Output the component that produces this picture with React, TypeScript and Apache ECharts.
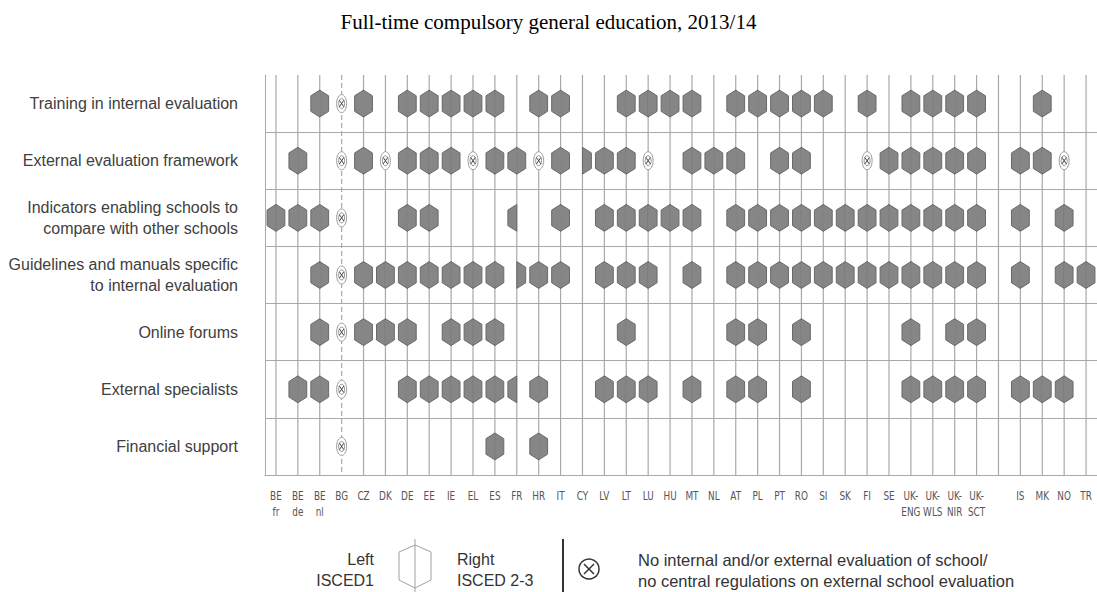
import React, { useEffect, useRef } from 'react';
import * as echarts from 'echarts';

// Countries / education systems (x axis); '' is the gap column
const countries = [
  'BE\nfr', 'BE\nde', 'BE\nnl', 'BG', 'CZ', 'DK', 'DE', 'EE', 'IE', 'EL', 'ES', 'FR', 'HR', 'IT',
  'CY', 'LV', 'LT', 'LU', 'HU', 'MT', 'NL', 'AT', 'PL', 'PT', 'RO', 'SI', 'SK', 'FI', 'SE',
  'UK-\nENG', 'UK-\nWLS', 'UK-\nNIR', 'UK-\nSCT', '', 'IS', 'MK', 'NO', 'TR',
];

// Support measures (y axis)
const measures = [
  'Training in internal evaluation',
  'External evaluation framework',
  'Indicators enabling schools to\ncompare with other schools',
  'Guidelines and manuals specific\nto internal evaluation',
  'Online forums',
  'External specialists',
  'Financial support',
];

// Codes per country: B = ISCED 1 and ISCED 2-3, L = left (ISCED1) only,
// R = right (ISCED 2-3) only, X = no internal/external evaluation, . = none
const trainingInInternalEvaluation = '..BXB.BBBBB.BB..BBBB.BBBBB.B.BBBB..B..'.split('');
const externalEvaluationFramework = '.B.XBXBBBXBBXBRBBX.BBB.BB..XBBBBB.BBX.'.split('');
const indicatorsToCompare = 'BBBX..BB...L.B.BBBBB.BBBBBBBBBBBB.B.B.'.split('');
const guidelinesAndManuals = '..BXBBBBBBBRBB.BBB.B.BBBBBBBBBBBB.B.BB'.split('');
const onlineForums = '..BXBBB.BBB.....B....BB.B....B.BB.....'.split('');
const externalSpecialists = '.BBX..BBBBBLB..BBB.B.BB.B....BBBB.BBB.'.split('');
const financialSupport = '...X......B.B.........................'.split('');

const rowsData = [
  trainingInInternalEvaluation,
  externalEvaluationFramework,
  indicatorsToCompare,
  guidelinesAndManuals,
  onlineForums,
  externalSpecialists,
  financialSupport,
];

export default function App() {
  const ref = useRef<HTMLDivElement>(null);

  useEffect(() => {
    if (!ref.current) return;
    const chart = echarts.init(ref.current, undefined, { renderer: 'svg' });

    const marks: { col: number; row: number; code: string }[] = [];
    rowsData.forEach((row, r) => {
      row.forEach((code, c) => {
        if (code !== '.') marks.push({ col: c, row: r, code });
      });
    });

    const dashedCols = countries.map((_, c) => rowsData.every((row) => row[c] === 'X'));

    const lineColor = '#a9a9a9';
    const hexFill = '#868686';
    const hexStroke = '#6a6a6a';
    const HW = 8.9;
    const HH = 13.4;
    const SH = 7.8;
    const sans = '"Liberation Sans", Arial, sans-serif';

    const option: any = {
      animation: false,
      title: {
        text: 'Full-time compulsory general education, 2013/14',
        left: 'center',
        top: 6,
        textStyle: {
          fontFamily: '"Liberation Serif", "Times New Roman", serif',
          fontSize: 21,
          fontWeight: 'normal',
          color: '#000',
        },
      },
      grid: { left: 265, top: 75, width: 843.6, height: 400 },
      xAxis: {
        type: 'category',
        data: countries,
        boundaryGap: true,
        axisLine: { show: true, lineStyle: { color: lineColor, width: 1 } },
        axisTick: { show: false },
        splitLine: { show: false },
        axisLabel: { show: false },
      },
      yAxis: {
        type: 'category',
        data: measures,
        inverse: true,
        boundaryGap: true,
        axisLine: { show: true, lineStyle: { color: lineColor, width: 1 } },
        axisTick: { show: false },
        splitLine: {
          show: true,
          lineStyle: {
            color: ['rgba(0,0,0,0)', lineColor, lineColor, lineColor, lineColor, lineColor, lineColor, lineColor],
            width: 1,
          },
        },
        axisLabel: {
          margin: 27,
          fontSize: 16,
          lineHeight: 21,
          color: '#404040',
          fontFamily: sans,
        },
      },
      series: [
        {
          type: 'custom',
          z: 1,
          silent: true,
          clip: false,
          data: countries.map((_, i) => [i, 0]),
          renderItem: (params: any, api: any) => {
            const c = api.value(0);
            const x = api.coord([c, 0])[0];
            const cs = params.coordSys;
            return {
              type: 'group',
              children: [
                {
                  type: 'line',
                  shape: { x1: x, y1: cs.y, x2: x, y2: cs.y + cs.height },
                  style: {
                    stroke: lineColor,
                    lineWidth: 1.2,
                    lineDash: dashedCols[c] ? [5, 3] : null,
                  },
                },
                {
                  type: 'text',
                  x,
                  y: cs.y + cs.height + 12,
                  scaleX: 0.74,
                  style: {
                    text: countries[c],
                    align: 'center',
                    verticalAlign: 'top',
                    fontSize: 12,
                    lineHeight: 16,
                    fill: '#555',
                    fontFamily: '"DejaVu Sans", sans-serif',
                  },
                },
              ],
            };
          },
        },
        {
          type: 'custom',
          z: 3,
          silent: true,
          clip: false,
          data: marks.map((m) => [m.col, m.row]),
          renderItem: (params: any, api: any) => {
            const m = marks[params.dataIndex];
            const [cx, cy] = api.coord([api.value(0), api.value(1)]);
            if (m.code === 'X') {
              return {
                type: 'group',
                children: [
                  {
                    type: 'ellipse',
                    shape: { cx, cy, rx: 5, ry: 9 },
                    style: { fill: '#fff', stroke: '#9a9a9a', lineWidth: 1 },
                  },
                  {
                    type: 'ellipse',
                    shape: { cx, cy, rx: 3, ry: 5 },
                    style: { fill: 'none', stroke: '#777', lineWidth: 0.8 },
                  },
                  {
                    type: 'line',
                    shape: { x1: cx - 2.2, y1: cy - 3.2, x2: cx + 2.2, y2: cy + 3.2 },
                    style: { stroke: '#444', lineWidth: 1 },
                  },
                  {
                    type: 'line',
                    shape: { x1: cx + 2.2, y1: cy - 3.2, x2: cx - 2.2, y2: cy + 3.2 },
                    style: { stroke: '#444', lineWidth: 1 },
                  },
                ],
              };
            }
            const left = [
              [cx, cy - HH],
              [cx - HW, cy - SH],
              [cx - HW, cy + SH],
              [cx, cy + HH],
            ];
            const right = [
              [cx, cy - HH],
              [cx + HW, cy - SH],
              [cx + HW, cy + SH],
              [cx, cy + HH],
            ];
            const style = { fill: hexFill, stroke: hexStroke, lineWidth: 1 };
            const children: any[] = [];
            if (m.code === 'B' || m.code === 'L') {
              children.push({ type: 'polygon', shape: { points: left }, style });
            }
            if (m.code === 'B' || m.code === 'R') {
              children.push({ type: 'polygon', shape: { points: right }, style });
            }
            if (m.code === 'B') {
              children.push({
                type: 'line',
                shape: { x1: cx, y1: cy - HH + 1, x2: cx, y2: cy + HH - 1 },
                style: { stroke: hexFill, lineWidth: 1.5 },
              });
            }
            return { type: 'group', children };
          },
        },
      ],
      graphic: [
        {
          type: 'text',
          x: 374,
          y: 570,
          style: {
            text: 'Left\nISCED1',
            align: 'right',
            verticalAlign: 'middle',
            fontSize: 16,
            lineHeight: 21,
            fill: '#333',
            fontFamily: sans,
          },
        },
        {
          type: 'polygon',
          shape: {
            points: [
              [415, 545],
              [431, 552],
              [431, 580],
              [415, 588],
              [399, 580],
              [399, 552],
            ],
          },
          style: { fill: '#fff', stroke: '#a0a0a0', lineWidth: 1 },
        },
        {
          type: 'line',
          shape: { x1: 415, y1: 539, x2: 415, y2: 592 },
          style: { stroke: '#a0a0a0', lineWidth: 1 },
        },
        {
          type: 'text',
          x: 457,
          y: 570,
          style: {
            text: 'Right\nISCED 2-3',
            align: 'left',
            verticalAlign: 'middle',
            fontSize: 16,
            lineHeight: 21,
            fill: '#333',
            fontFamily: sans,
          },
        },
        {
          type: 'line',
          shape: { x1: 563, y1: 539, x2: 563, y2: 592 },
          style: { stroke: '#333', lineWidth: 2 },
        },
        {
          type: 'circle',
          shape: { cx: 589, cy: 569, r: 10 },
          style: { fill: '#fff', stroke: '#333', lineWidth: 1.5 },
        },
        {
          type: 'line',
          shape: { x1: 584, y1: 564, x2: 594, y2: 574 },
          style: { stroke: '#333', lineWidth: 1.5 },
        },
        {
          type: 'line',
          shape: { x1: 594, y1: 564, x2: 584, y2: 574 },
          style: { stroke: '#333', lineWidth: 1.5 },
        },
        {
          type: 'text',
          x: 638,
          y: 570,
          style: {
            text: 'No internal and/or external evaluation of school/\nno central regulations on external school evaluation',
            align: 'left',
            verticalAlign: 'middle',
            fontSize: 16.5,
            lineHeight: 21,
            fill: '#333',
            fontFamily: sans,
          },
        },
      ],
    };

    chart.setOption(option);
    return () => chart.dispose();
  }, []);

  return (
    <div
      ref={ref}
      style={{ position: 'fixed', left: 0, top: 0, width: 1097, height: 592, background: '#fff' }}
    />
  );
}
